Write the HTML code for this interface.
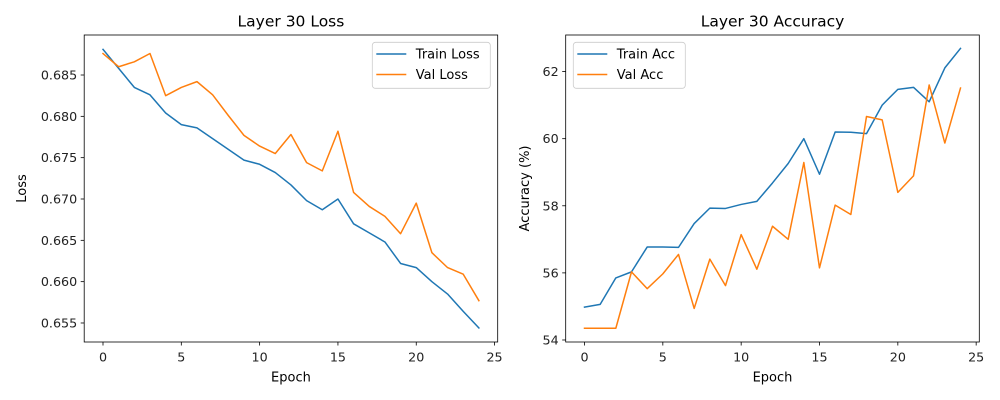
<!DOCTYPE html>
<html><head><meta charset="utf-8"><style>
body{margin:0;background:#fff;}
svg{display:block;font-family:"DejaVu Sans","Liberation Sans",sans-serif;}
</style></head><body>
<svg id="chart" width="1000" height="400" viewBox="0 0 1000 400"></svg>
<script>
const epochs = [0,1,2,3,4,5,6,7,8,9,10,11,12,13,14,15,16,17,18,19,20,21,22,23,24];
const trainLoss = [0.6881,0.6858,0.6835,0.6826,0.6804,0.6790,0.6786,0.6773,0.6760,0.6747,0.6742,0.6732,0.6717,0.6698,0.6687,0.6700,0.6670,0.6659,0.6648,0.6622,0.6617,0.6600,0.6585,0.6564,0.6544];
const valLoss = [0.6876,0.6860,0.6866,0.6876,0.6825,0.6835,0.6842,0.6826,0.6801,0.6777,0.6764,0.6755,0.6778,0.6744,0.6734,0.6782,0.6708,0.6691,0.6679,0.6658,0.6695,0.6635,0.6617,0.6609,0.6577];
const trainAcc = [54.98,55.06,55.85,56.03,56.77,56.77,56.76,57.47,57.93,57.92,58.04,58.13,58.68,59.26,60.00,58.94,60.20,60.19,60.15,61.00,61.47,61.53,61.10,62.11,62.69];
const valAcc = [54.35,54.35,54.35,56.03,55.53,55.97,56.55,54.94,56.41,55.62,57.14,56.11,57.39,57.00,59.29,56.15,58.02,57.74,60.66,60.56,58.40,58.89,61.60,59.87,61.51];
const xTicks = [0,5,10,15,20,25];
const lossTicks = [0.655,0.660,0.665,0.670,0.675,0.680,0.685];
const accTicks = [54,56,58,60,62];

const NS='http://www.w3.org/2000/svg';
const svg=document.getElementById('chart');
function mk(tag,attrs,parent){const e=document.createElementNS(NS,tag);for(const k in attrs)e.setAttribute(k,attrs[k]);(parent||svg).appendChild(e);return e;}

function panel(cfg){
  const g=mk('g',{});
  
  
  const L=cfg.left,R=cfg.right,T=35,B=342;
  const unit=(R-L)/26.4;
  const xs=v=>L+unit*(v+1.2);
  const ys=v=>B-(v-cfg.ymin)/(cfg.ymax-cfg.ymin)*(B-T);
  cfg.series.forEach(s=>{
    const p=mk('polyline',{points:s.data.map((v,i)=>xs(epochs[i]).toFixed(2)+','+ys(v).toFixed(2)).join(' '),fill:'none',stroke:s.color,'stroke-width':1.5,'stroke-linejoin':'round','stroke-linecap':'square'},g);
    
    
  });
  const fr=mk('rect',{x:L,y:T,width:R-L,height:B-T,fill:'none',stroke:'#000','stroke-width':0.8},g);
  
  
  xTicks.forEach(t=>{
    const x=xs(t);
    mk('line',{x1:x,x2:x,y1:B,y2:B+3.5,stroke:'#000','stroke-width':0.8},g);
    const tx=mk('text',{x:x,y:B+19.5,'text-anchor':'middle','font-size':12.7,fill:'#222'},g);
    tx.textContent=t;
    
    
  });
  cfg.yticks.forEach(t=>{
    const y=ys(t);
    mk('line',{x1:L-3.5,x2:L,y1:y,y2:y,stroke:'#000','stroke-width':0.8},g);
    const tx=mk('text',{x:L-7,y:y+4.5,'text-anchor':'end','font-size':12.7,fill:'#222'},g);
    tx.textContent=cfg.fmt(t);
    
    
  });
  const ti=mk('text',{x:(L+R)/2,y:26.7,'text-anchor':'middle','font-size':15.5,fill:'#000'},g);
  ti.textContent=cfg.title;
  
  
  const xl=mk('text',{x:(L+R)/2,y:381.7,'text-anchor':'middle','font-size':13,fill:'#000'},g);
  xl.textContent='Epoch';
  
  
  const yl=mk('text',{x:0,y:0,'text-anchor':'middle','font-size':13,fill:'#000',transform:`translate(${cfg.ylx},${(T+B)/2}) rotate(-90)`},g);
  yl.textContent=cfg.ylabel;
  
  
  const lg=mk('g',{},g);
  
  
  mk('rect',{x:cfg.lgx,y:42.3,width:cfg.lgw,height:46,rx:3,fill:'#fff','fill-opacity':0.8,stroke:'#ccc','stroke-width':0.8},lg);
  cfg.series.forEach((s,i)=>{
    const y=54+i*20.5;
    const ln=mk('line',{x1:cfg.lgx+4,x2:cfg.lgx+34,y1:y,y2:y,stroke:s.color,'stroke-width':1.5},lg);
    
    
    const tx=mk('text',{x:cfg.lgx+43.5,y:y+4.7,'font-size':13,fill:'#000'},lg);
    tx.textContent=s.label;
    
    
  });
}
panel({name:'loss-chart',left:84.2,right:497.7,ymin:0.65270,ymax:0.68984,yticks:lossTicks,fmt:v=>v.toFixed(3),title:'Layer 30 Loss',ylabel:'Loss',ylx:26,lgx:372.3,lgw:118,
  series:[{key:'train-loss',label:'Train Loss',data:trainLoss,color:'#1f77b4'},{key:'val-loss',label:'Val Loss',data:valLoss,color:'#ff7f0e'}]});
panel({name:'accuracy-chart',left:565.7,right:979.3,ymin:53.94,ymax:63.09,yticks:accTicks,fmt:v=>String(v),title:'Layer 30 Accuracy',ylabel:'Accuracy (%)',ylx:529,lgx:573.3,lgw:112,
  series:[{key:'train-acc',label:'Train Acc',data:trainAcc,color:'#1f77b4'},{key:'val-acc',label:'Val Acc',data:valAcc,color:'#ff7f0e'}]});
</script>
</body></html>
